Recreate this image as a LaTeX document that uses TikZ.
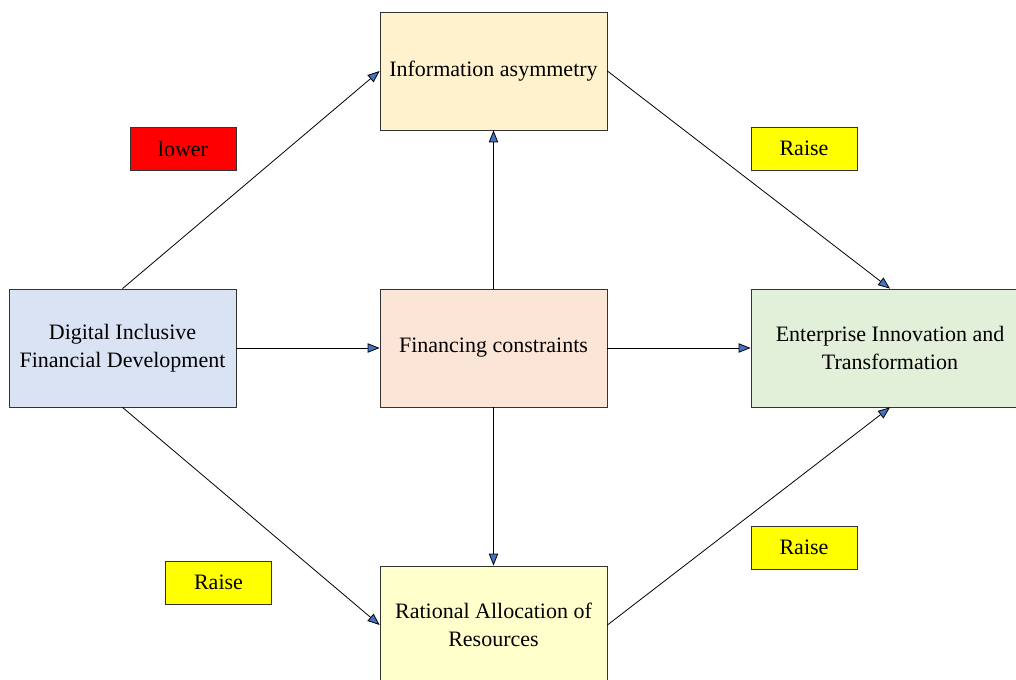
\documentclass[tikz,border=0pt]{standalone}
\usepackage{fontspec}
\setmainfont{Liberation Serif}
\usetikzlibrary{arrows.meta}
\definecolor{cblue}{HTML}{DAE3F3}
\definecolor{cinfo}{HTML}{FFF2CC}
\definecolor{cfin}{HTML}{FBE5D6}
\definecolor{cent}{HTML}{E2F0D9}
\definecolor{crat}{HTML}{FFFFCC}
\definecolor{ctip}{HTML}{4472C4}
\definecolor{cyel}{HTML}{FFFF00}
\definecolor{cred}{HTML}{FF0000}
\tikzset{
  box/.style={draw=black!80, line width=0.6pt, minimum width=227*0.75pt, minimum height=118*0.75pt, align=center, inner sep=2pt, font=\fontsize{16.5}{21}\selectfont},
  tag/.style={draw=black!80, line width=0.5pt, minimum width=106*0.75pt, minimum height=43*0.75pt, inner sep=0pt, font=\fontsize{16.5}{21}\selectfont},
  arr/.style={line width=0.6pt, -{Triangle[length=9pt, width=7pt, fill=ctip]}},
}
\begin{document}
\begin{tikzpicture}[x=0.75pt, y=-0.75pt]
\useasboundingbox (0,0) rectangle (1016,680);
\begin{scope}
\clip (0,0) rectangle (1016,680);
\node[box, fill=cblue] (dig) at (122.5,348) {Digital Inclusive\\Financial Development};
\node[box, fill=cinfo] (info) at (493.5,71) {Information asymmetry};
\node[box, fill=cfin] (fin) at (493.5,348) {Financing constraints};
\node[box, fill=cent, minimum width=278*0.75pt] (ent) at (890,348) {Enterprise Innovation and\\Transformation};
\node[box, fill=crat] (rat) at (493.5,625) {Rational Allocation of\\Resources};
\node[tag, fill=cred] (lower) at (183,148.5) {lower};
\node[tag, fill=cyel] (r1) at (804,148.5) {Raise};
\node[tag, fill=cyel] (r2) at (218.5,582.5) {Raise};
\node[tag, fill=cyel] (r3) at (804,547.5) {Raise};
\draw[arr] (dig.north) -- (info.west);
\draw[arr] (dig.east) -- (fin.west);
\draw[arr] (dig.south) -- (rat.west);
\draw[arr] (info.east) -- (ent.north);
\draw[arr] (fin.north) -- (info.south);
\draw[arr] (fin.east) -- (ent.west);
\draw[arr] (fin.south) -- (rat.north);
\draw[arr] (rat.east) -- (ent.south);
\end{scope}
\end{tikzpicture}
\end{document}
